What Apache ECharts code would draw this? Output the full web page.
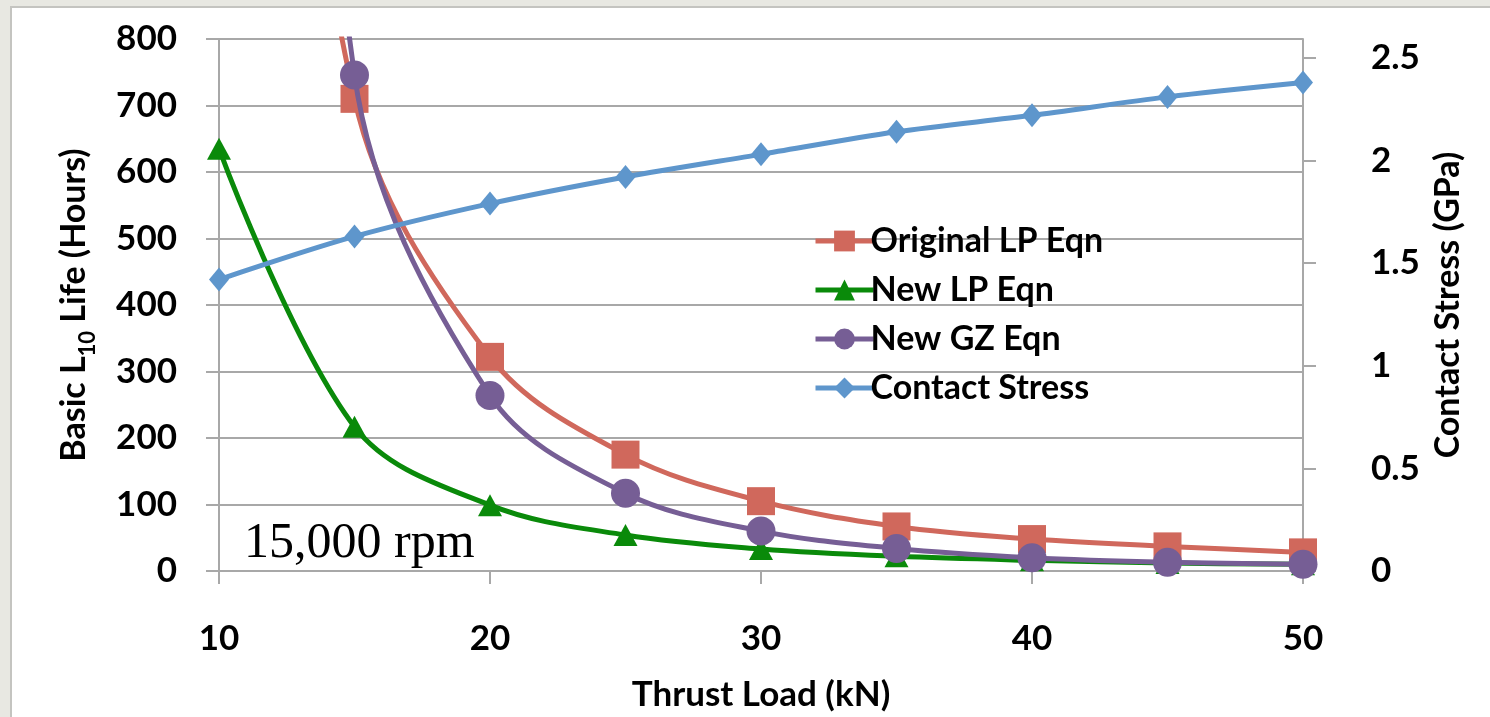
<!DOCTYPE html>
<html>
<head>
<meta charset="utf-8">
<script src="https://cdn.jsdelivr.net/npm/echarts@6/dist/echarts.min.js"></script>
<style>
  html, body { margin: 0; padding: 0; width: 1490px; height: 717px; overflow: hidden; background: #e8e8e2; }
  #panel { position: absolute; left: 10px; top: 6px; width: 1490px; height: 720px; background: #ffffff; border-left: 2px solid #c4c4c0; border-top: 2px solid #c4c4c0; }
  #chart { position: absolute; left: 0; top: 0; width: 1490px; height: 717px; }
</style>
</head>
<body>
<div id="panel"></div>
<div id="chart"></div>
<script>
// ---- data ----
const thrustLoad = [10, 15, 20, 25, 30, 35, 40, 45, 50];           // kN
const originalLP = [2170, 710, 322, 175, 105, 67, 48, 37, 28];      // hours
const newLP      = [635, 217, 99, 54, 33, 22, 16, 12, 10];          // hours
const newGZ      = [3200, 746, 264, 117, 60, 34, 20, 13, 10];       // hours
const contactStress = [1.42, 1.63, 1.79, 1.92, 2.03, 2.14, 2.22, 2.31, 2.38]; // GPa
const xTicks = [10, 20, 30, 40, 50];
const leftTicks = [0, 100, 200, 300, 400, 500, 600, 700, 800];
const rightTicks = [0, 0.5, 1, 1.5, 2, 2.5];
const seriesNames = ['Original LP Eqn', 'New LP Eqn', 'New GZ Eqn', 'Contact Stress'];

const pairs = (ys) => thrustLoad.map((x, i) => [x, ys[i]]);

const FONT = 'Lato';
const labelStyle = { fontFamily: FONT, fontWeight: 'bold', fontSize: 35, color: '#000' };
const gridGray = '#a8a8a8';

const chart = echarts.init(document.getElementById('chart'), null, { renderer: 'canvas' });
chart.setOption({
  backgroundColor: 'transparent',
  animation: false,
  grid: { left: 219, right: 187, top: 39, bottom: 144 },
  legend: {
    orient: 'vertical',
    left: 808,
    top: 219,
    itemWidth: 58,
    itemHeight: 26,
    itemGap: 15,
    data: seriesNames,
    lineStyle: { width: 5 },
    textStyle: Object.assign({}, labelStyle, { fontSize: 34, padding: [0, 0, 0, -8] })
  },
  xAxis: {
    type: 'value',
    min: 10, max: 50, interval: 10,
    name: 'Thrust Load (kN)',
    nameLocation: 'middle',
    nameGap: 106,
    nameTextStyle: Object.assign({}, labelStyle, { fontSize: 35 }),
    axisLine: { show: true, onZero: false, lineStyle: { color: gridGray, width: 2 } },
    axisTick: { show: true, length: 13, inside: false, lineStyle: { color: gridGray, width: 2 } },
    axisLabel: Object.assign({}, labelStyle, { margin: 50, customValues: xTicks }),
    splitLine: { show: false }
  },
  yAxis: [
    {
      type: 'value',
      position: 'left',
      min: 0, max: 800, interval: 100,
      name: '{n|Basic L}{s|10}{n| Life (Hours)}',
      nameLocation: 'middle',
      nameRotate: 90,
      nameGap: 128,
      nameTextStyle: {
        rich: {
          n: Object.assign({}, labelStyle, { fontSize: 34, lineHeight: 40, verticalAlign: 'bottom' }),
          s: Object.assign({}, labelStyle, { fontSize: 22, lineHeight: 34, verticalAlign: 'bottom', padding: [0, 0, -8, 0] })
        }
      },
      axisLine: { show: true, lineStyle: { color: gridGray, width: 2 } },
      axisTick: { show: true, length: 13, inside: false, lineStyle: { color: gridGray, width: 2 } },
      axisLabel: Object.assign({}, labelStyle, { margin: 42, customValues: leftTicks }),
      splitLine: { show: true, lineStyle: { color: gridGray, width: 2 } }
    },
    {
      type: 'value',
      position: 'right',
      min: 0, max: 2.592,
      name: 'Contact Stress (GPa)',
      nameLocation: 'middle',
      nameRotate: 90,
      nameGap: 128,
      nameTextStyle: Object.assign({}, labelStyle, { fontSize: 34 }),
      axisLine: { show: true, lineStyle: { color: gridGray, width: 2 } },
      axisTick: { show: true, length: 13, inside: false, customValues: rightTicks, lineStyle: { color: gridGray, width: 2 } },
      axisLabel: Object.assign({}, labelStyle, { margin: 68, customValues: rightTicks }),
      splitLine: { show: false }
    }
  ],
  graphic: [
    {
      type: 'text',
      left: 244,
      top: 519,
      z: 100,
      style: { text: '15,000 rpm', font: '50px "Liberation Serif", "DejaVu Serif", serif', fill: '#000' }
    }
  ],
  series: [
    {
      name: seriesNames[0], type: 'line', yAxisIndex: 0, smooth: 0.35,
      data: pairs(originalLP),
      symbol: 'rect', symbolSize: 28,
      lineStyle: { color: '#d0685c', width: 5 },
      itemStyle: { color: '#d0685c' },
      z: 2
    },
    {
      name: seriesNames[1], type: 'line', yAxisIndex: 0, smooth: 0.35,
      data: pairs(newLP),
      symbol: 'triangle', symbolSize: [24, 22],
      lineStyle: { color: '#0a8a0a', width: 5 },
      itemStyle: { color: '#0a8a0a' },
      z: 3
    },
    {
      name: seriesNames[2], type: 'line', yAxisIndex: 0, smooth: 0.35,
      data: pairs(newGZ),
      symbol: 'circle', symbolSize: 29,
      lineStyle: { color: '#765e95', width: 5 },
      itemStyle: { color: '#765e95' },
      z: 4
    },
    {
      name: seriesNames[3], type: 'line', yAxisIndex: 1, smooth: 0.3,
      data: pairs(contactStress),
      symbol: 'diamond', symbolSize: [20, 24],
      lineStyle: { color: '#5e96cc', width: 5 },
      itemStyle: { color: '#5e96cc' },
      z: 5
    }
  ]
});
</script>
</body>
</html>
